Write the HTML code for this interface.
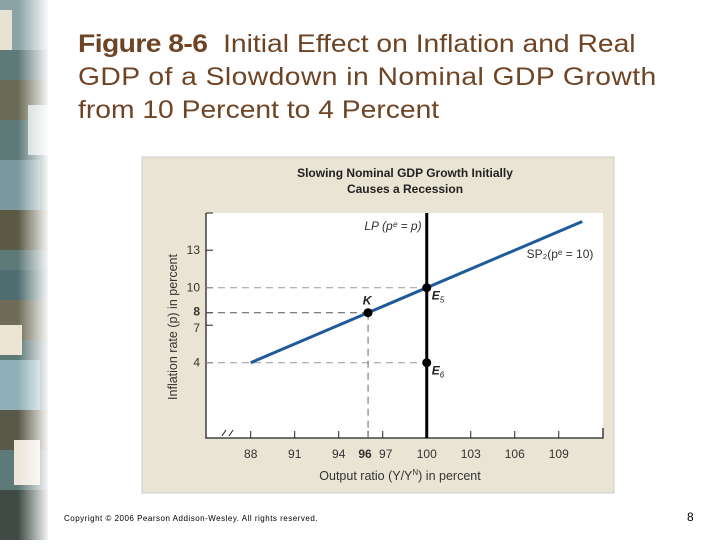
<!DOCTYPE html>
<html><head><meta charset="utf-8"><style>
body{margin:0;width:720px;height:540px;background:#fff;position:relative;overflow:hidden;font-family:"Liberation Sans",sans-serif}
#strip{position:absolute;left:0;top:0;width:48px;height:540px}
#fade{position:absolute;left:18px;top:0;width:32px;height:540px;background:linear-gradient(to right,rgba(255,255,255,0),#fff)}
#title{position:absolute;left:78px;top:28px;font-size:25px;line-height:33px;color:#6e4424;white-space:nowrap;transform:scaleX(1.13);transform-origin:0 0}
#title b{letter-spacing:-0.5px}
#copy{position:absolute;left:64px;top:514px;font-size:8px;letter-spacing:0.5px;color:#000}
#pnum{position:absolute;left:687px;top:510px;font-size:12px;color:#000}
svg text{font-family:"Liberation Sans",sans-serif}
</style></head><body>
<div id="strip">
<svg width="48" height="540">
<rect x="0" y="0" width="48" height="540" fill="#5e7a78"/>
<rect x="0" y="0" width="48" height="50" fill="#8aa3a6"/>
<rect x="0" y="10" width="12" height="40" fill="#e8e2d4"/>
<rect x="0" y="80" width="48" height="40" fill="#6b6a55"/>
<rect x="28" y="105" width="20" height="50" fill="#c9d3d3"/>
<rect x="0" y="160" width="40" height="50" fill="#7a9aa0"/>
<rect x="0" y="210" width="48" height="40" fill="#5c5a45"/>
<rect x="0" y="270" width="48" height="30" fill="#4f6d70"/>
<rect x="0" y="300" width="48" height="40" fill="#6e6c58"/>
<rect x="0" y="325" width="22" height="30" fill="#ebe4d3"/>
<rect x="0" y="360" width="40" height="50" fill="#8fb0b8"/>
<rect x="0" y="410" width="48" height="40" fill="#5a5848"/>
<rect x="14" y="440" width="26" height="45" fill="#ece7da"/>
<rect x="0" y="490" width="48" height="50" fill="#3f4b44"/>
</svg></div>
<div id="fade"></div>
<div id="title"><b>Figure 8-6</b>&nbsp; Initial Effect on Inflation and Real<br><span style="letter-spacing:0.4px">GDP of a Slowdown in Nominal GDP Growth</span><br>from 10 Percent to 4 Percent</div>
<svg id="chart" width="720" height="540" style="position:absolute;left:0;top:0">
<rect x="142" y="157" width="472" height="336" fill="#e9e4d4" stroke="#ccc"/>
<text x="405" y="177" font-size="12" font-weight="bold" text-anchor="middle" fill="#222">Slowing Nominal GDP Growth Initially</text>
<text x="405" y="193" font-size="12" font-weight="bold" text-anchor="middle" fill="#222">Causes a Recession</text>
<rect x="206" y="213" width="397" height="225" fill="#fff"/>
<g id="g"></g>
</svg>
<div id="copy">Copyright © 2006 Pearson Addison-Wesley. All rights reserved.</div>
<div id="pnum">8</div>
<script>
const xTicks=[88,91,94,96,97,100,103,106,109];
const yTicks=[4,7,8,10,13];
const spX=[88,110.6];
const spY=[4,15.3];
const lpX=100;
const pointNames=["K","E5","E6"];
const pointX=[96,100,100];
const pointY=[8,10,4];
const X=v=>250.7+(v-88)*14.67;
const Y=v=>362.7-(v-4)*12.5;
const ns="http://www.w3.org/2000/svg",g=document.getElementById('g');
function mk(t,a,txt){const e=document.createElementNS(ns,t);for(const k in a)e.setAttribute(k,a[k]);if(txt!=null)e.textContent=txt;g.appendChild(e);return e;}
let ax=mk('path',{d:'M206,213V438H603V428',stroke:'#222','stroke-width':1.3,fill:'none'});


mk('path',{d:'M206,213H213M222,436L226,430M229,436L233,430',stroke:'#222','stroke-width':1,fill:'none'});
xTicks.forEach(v=>{const x=X(v);
const t=mk('line',{x1:x,x2:x,y1:431,y2:438,stroke:'#222'});


const l=mk('text',{x:x+(v===96?-3:v===97?3:0),y:458,'font-size':12,'text-anchor':'middle',fill:'#333','font-weight':v===96?'bold':'normal'},String(v));

});
yTicks.forEach(v=>{const y=Y(v);
const t=mk('line',{x1:206,x2:213,y1:y,y2:y,stroke:'#222'});


const l=mk('text',{x:200,y:y+(v===8?3:v===7?7:4),'font-size':12,'text-anchor':'end',fill:'#333','font-weight':v===8?'bold':'normal'},String(v));

});
let xt=mk('text',{x:400,y:480,'font-size':12.5,'text-anchor':'middle',fill:'#333'},'Output ratio (Y/Y');


const ts=document.createElementNS(ns,'tspan');ts.setAttribute('font-size',8);ts.setAttribute('dy',-5);ts.textContent='N';xt.appendChild(ts);
const ts2=document.createElementNS(ns,'tspan');ts2.setAttribute('dy',5);ts2.textContent=') in percent';xt.appendChild(ts2);
let yt=mk('text',{x:0,y:0,'font-size':12.5,'text-anchor':'middle',fill:'#333',transform:'translate(177,327) rotate(-90)'},'Inflation rate (p) in percent');


[[pointX[0],pointY[0],'#555'],[pointX[1],pointY[1],'#999'],[pointX[2],pointY[2],'#999']].forEach(p=>{
const d=mk('line',{x1:206,x2:X(p[0]),y1:Y(p[1]),y2:Y(p[1]),stroke:p[2],'stroke-dasharray':'7,5'});

});
let vd=mk('line',{x1:X(pointX[0]),x2:X(pointX[0]),y1:Y(pointY[0]),y2:438,stroke:'#666','stroke-dasharray':'7,5'});


let lp=mk('line',{x1:X(lpX),x2:X(lpX),y1:213,y2:438,stroke:'#000','stroke-width':3});


let lpl=mk('text',{x:393,y:230,'font-size':12,'font-style':'italic','text-anchor':'middle',fill:'#333'},'LP (pᵉ = p)');


let sp=mk('line',{x1:X(spX[0]),y1:Y(spY[0]),x2:X(spX[1]),y2:Y(spY[1]),stroke:'#1f5b9a','stroke-width':3});


let spl=mk('text',{x:560,y:258,'font-size':12,'text-anchor':'middle',fill:'#333'},'SP₂(pᵉ = 10)');


pointNames.forEach((n,i)=>{
const c=mk('circle',{cx:X(pointX[i]),cy:Y(pointY[i]),r:4.5,fill:'#000'});


const lx=n==='K'?X(pointX[i])-1:X(pointX[i])+5, ly=n==='K'?Y(pointY[i])-8:Y(pointY[i])+12;
const t=mk('text',{x:lx,y:ly,'font-size':12,'font-weight':'bold','font-style':'italic','text-anchor':n==='K'?'middle':'start',fill:'#222'},n[0]);


if(n.length>1){const s=document.createElementNS(ns,'tspan');s.setAttribute('font-size',8);s.setAttribute('dy',3);s.setAttribute('font-weight','normal');s.textContent=n.slice(1);t.appendChild(s);}
});
</script>
</body></html>
